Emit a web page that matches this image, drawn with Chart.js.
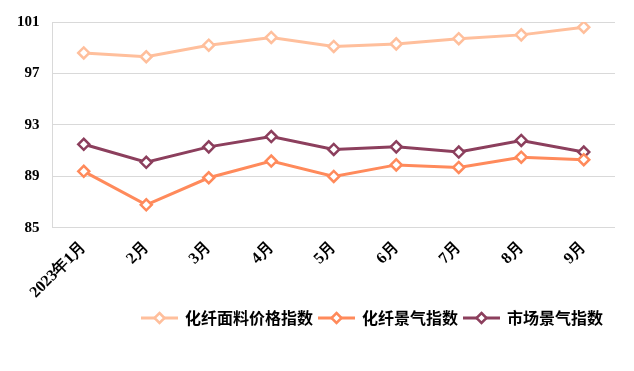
<!DOCTYPE html>
<html>
<head>
<meta charset="utf-8">
<script src="https://cdn.jsdelivr.net/npm/chart.js@4/dist/chart.umd.min.js"></script>
<style>
    html, body { margin: 0; padding: 0; background: #fff; }
    #wrap { width: 634px; height: 371px; }
</style>
</head>
<body>
<div id="wrap"><canvas id="trendChart" width="634" height="371"></canvas></div>
<script>
    const months = ['2023年1月', '2月', '3月', '4月', '5月', '6月', '7月', '8月', '9月'];
    const fabricPrice = [98.6, 98.3, 99.2, 99.8, 99.1, 99.3, 99.7, 100.0, 100.6];
    const fiberIndex = [89.4, 86.8, 88.9, 90.2, 89.0, 89.9, 89.7, 90.5, 90.3];
    const marketIndex = [91.5, 90.1, 91.3, 92.1, 91.1, 91.3, 90.9, 91.8, 90.9];
    const yTicks = [85, 89, 93, 97, 101];

    const colors = ['#FFBF9C', '#FF8A5B', '#8C3F5D'];

    // legend marker: short line with a hollow diamond in the middle
    function legendMarker(color) {
        const c = document.createElement('canvas');
        c.width = 37;
        c.height = 14;
        const g = c.getContext('2d');
        g.strokeStyle = color;
        g.lineWidth = 3;
        g.beginPath();
        g.moveTo(0, 7);
        g.lineTo(37, 7);
        g.stroke();
        g.fillStyle = '#fff';
        g.lineWidth = 2.5;
        g.beginPath();
        g.moveTo(18.5, 2);
        g.lineTo(23.5, 7);
        g.lineTo(18.5, 12);
        g.lineTo(13.5, 7);
        g.closePath();
        g.fill();
        g.stroke();
        return c;
    }

    function makeSet(label, data, color) {
        return {
            label: label,
            data: data,
            borderColor: color,
            backgroundColor: '#fff',
            borderWidth: 3,
            pointStyle: 'rectRot',
            pointRadius: 5.5,
            pointBorderWidth: 2.5,
            pointBackgroundColor: '#fff',
            pointBorderColor: color,
            tension: 0,
            fill: false
        };
    }

    // nudge the legend a little left of the plot's right edge
    const legendShift = {
        id: 'legendShift',
        afterLayout(chart) {
            chart.legend.left -= 6;
            chart.legend.right -= 6;
        }
    };

    const ctx = document.getElementById('trendChart').getContext('2d');
    new Chart(ctx, {
        type: 'line',
        data: {
            labels: months,
            datasets: [
                makeSet('化纤面料价格指数', fabricPrice, colors[0]),
                makeSet('化纤景气指数', fiberIndex, colors[1]),
                makeSet('市场景气指数', marketIndex, colors[2])
            ]
        },
        plugins: [legendShift],
        options: {
            responsive: false,
            animation: false,
            layout: { autoPadding: false, padding: { left: 4, right: 19, top: 7, bottom: 35 } },
            plugins: {
                tooltip: { enabled: false },
                legend: {
                    position: 'bottom',
                    align: 'end',
                    labels: {
                        usePointStyle: true,
                        pointStyleWidth: 35,
                        padding: 6,
                        color: '#000',
                        font: { family: '"Noto Sans CJK SC"', size: 16, weight: 'bold', lineHeight: 1 },
                        generateLabels: function (chart) {
                            return chart.data.datasets.map((ds, i) => ({
                                text: ds.label,
                                pointStyle: legendMarker(ds.borderColor),
                                fillStyle: ds.borderColor,
                                strokeStyle: ds.borderColor,
                                fontColor: '#000',
                                lineWidth: 0,
                                hidden: false,
                                datasetIndex: i
                            }));
                        }
                    }
                }
            },
            scales: {
                x: {
                    offset: true,
                    grid: { display: false },
                    border: { display: false },
                    ticks: {
                        color: '#000',
                        minRotation: 45,
                        maxRotation: 45,
                        padding: 8,
                        font: { family: '"Liberation Serif"', size: 16, weight: 'bold', lineHeight: 0.1 }
                    }
                },
                y: {
                    min: 85,
                    max: 101,
                    afterBuildTicks: function (axis) {
                        axis.ticks = yTicks.map(v => ({ value: v }));
                    },
                    grid: { color: '#d9d9d9', lineWidth: 1, drawTicks: false },
                    border: { display: true, color: '#d9d9d9' },
                    ticks: {
                        color: '#000',
                        padding: 13,
                        font: { family: '"Liberation Serif"', size: 15, weight: 'bold' }
                    }
                }
            }
        }
    });
</script>
</body>
</html>
